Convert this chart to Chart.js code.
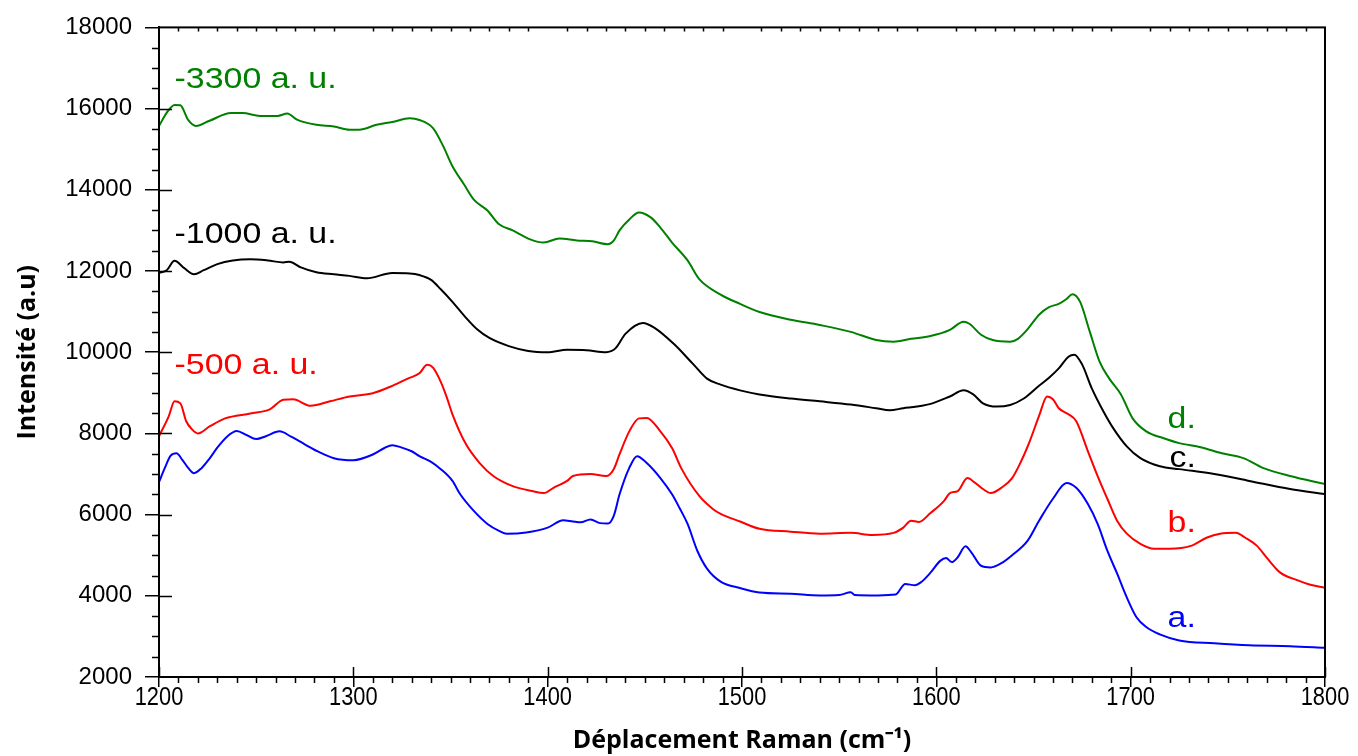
<!DOCTYPE html>
<html>
<head>
<meta charset="utf-8">
<script src="https://cdn.jsdelivr.net/npm/chart.js@4/dist/chart.umd.min.js"></script>
<style>
  html, body { margin: 0; padding: 0; background: #fff; }
  #wrap { width: 1358px; height: 756px; position: relative; }
</style>
</head>
<body>
<div id="wrap"><canvas id="raman"></canvas></div>
<script>
// Raman shift (cm-1) and intensity, one pair of arrays per spectrum
const xA = [1200,1203,1206,1209,1212,1215,1218,1222,1226,1230,1235,1240,1245,1250,1255,1262,1268,1275,1282,1290,1300,1310,1316,1320,1325,1330,1334,1340,1345,1351,1355,1362,1369,1375,1379,1389,1400,1408,1413,1417,1422,1427,1431,1434,1437,1442,1446,1451,1458,1464,1468,1472,1477,1482,1489,1499,1509,1525,1540,1550,1556,1558,1570,1579,1584,1589,1592,1597,1602,1605,1608,1611,1615,1618,1623,1628,1633,1639,1647,1653,1660,1667,1672,1678,1683,1688,1693,1698,1703,1708,1715,1725,1743,1761,1782,1800];
const yA = [6800,7150,7450,7510,7350,7150,7020,7150,7380,7650,7920,8060,7960,7860,7930,8050,7920,7730,7550,7390,7340,7480,7640,7710,7650,7560,7440,7300,7120,6830,6500,6090,5770,5600,5530,5560,5680,5860,5830,5810,5880,5790,5780,5970,6500,7150,7440,7270,6900,6500,6150,5770,5110,4670,4350,4190,4080,4050,4010,4020,4090,4020,4010,4030,4290,4260,4330,4570,4860,4930,4830,4950,5220,5070,4740,4700,4790,5000,5360,5860,6390,6780,6660,6260,5770,5110,4550,3960,3470,3230,3050,2900,2830,2780,2760,2720];

const xB = [1200,1205,1208,1211,1214,1217,1220,1226,1234,1247,1257,1264,1269,1278,1288,1298,1310,1319,1328,1334,1338,1341,1345,1348,1351,1358,1365,1372,1382,1392,1398,1403,1410,1413,1422,1430,1434,1437,1442,1447,1451,1458,1464,1469,1478,1485,1489,1499,1509,1525,1540,1556,1567,1578,1583,1587,1591,1597,1604,1607,1611,1616,1620,1624,1628,1634,1639,1643,1648,1653,1657,1660,1663,1668,1672,1678,1683,1688,1693,1698,1705,1712,1720,1731,1739,1746,1754,1759,1765,1770,1777,1786,1792,1800];
const yB = [7930,8420,8790,8740,8300,8100,8000,8170,8370,8490,8590,8830,8840,8680,8790,8910,8990,9150,9350,9480,9690,9620,9270,8900,8470,7730,7270,6950,6700,6580,6530,6660,6830,6950,7000,6950,7120,7490,8050,8370,8380,8050,7640,7120,6460,6140,6020,5830,5650,5580,5530,5550,5500,5550,5680,5850,5820,6040,6340,6530,6580,6900,6780,6630,6530,6680,6900,7250,7800,8450,8910,8840,8620,8470,8300,7560,6950,6390,5850,5530,5280,5160,5160,5230,5430,5530,5550,5430,5230,4940,4570,4380,4280,4200];

const xC = [1200,1204,1208,1213,1218,1223,1230,1238,1247,1256,1264,1267,1273,1281,1290,1298,1307,1320,1329,1334,1340,1345,1351,1357,1364,1370,1380,1390,1400,1410,1420,1430,1435,1440,1449,1455,1465,1475,1482,1489,1499,1509,1525,1540,1556,1569,1576,1583,1590,1598,1607,1614,1619,1624,1631,1638,1645,1653,1658,1663,1668,1671,1675,1680,1686,1691,1698,1705,1715,1725,1743,1761,1782,1800];
const yC = [11950,12020,12250,12070,11920,12020,12170,12260,12290,12260,12210,12230,12090,11970,11920,11880,11820,11950,11940,11900,11780,11550,11240,10900,10550,10350,10150,10030,10000,10060,10050,10000,10100,10450,10720,10600,10200,9700,9350,9200,9060,8960,8860,8790,8710,8620,8570,8620,8660,8740,8910,9060,8960,8740,8660,8700,8860,9180,9370,9600,9890,9940,9700,9110,8540,8130,7680,7390,7190,7120,7000,6830,6630,6500];

const xD = [1200,1204,1208,1211,1215,1219,1226,1237,1243,1252,1261,1266,1271,1281,1290,1298,1303,1312,1320,1329,1334,1341,1346,1351,1357,1362,1369,1375,1382,1391,1398,1406,1415,1423,1431,1434,1437,1442,1447,1453,1458,1464,1472,1478,1489,1499,1509,1525,1540,1556,1569,1578,1587,1597,1607,1614,1617,1623,1629,1638,1642,1647,1653,1658,1663,1667,1670,1674,1679,1684,1689,1695,1701,1708,1717,1725,1736,1747,1758,1768,1782,1800];
const yD = [15570,15900,16090,16080,15720,15570,15700,15890,15890,15820,15820,15880,15730,15600,15560,15480,15480,15600,15670,15760,15720,15520,15100,14580,14130,13760,13490,13150,13000,12780,12700,12800,12750,12730,12660,12750,13000,13270,13440,13320,13070,12700,12260,11800,11420,11190,10990,10800,10670,10500,10300,10260,10330,10400,10550,10750,10700,10430,10300,10260,10330,10570,10930,11110,11190,11310,11430,11240,10500,9770,9350,8960,8370,8050,7880,7760,7660,7510,7390,7150,6950,6750];

const seriesNames = ['a.', 'b.', 'c.', 'd.'];
const seriesColors = ['#0000ff', '#ff0000', '#000000', '#008000'];

const xTicks = [1200, 1300, 1400, 1500, 1600, 1700, 1800];
const yTicks = [2000, 4000, 6000, 8000, 10000, 12000, 14000, 16000, 18000];
const xMinorStep = 10;
const yMinorStep = 500;

// text labels placed in data units
const noteTexts = ['-3300 a. u.', '-1000 a. u.', '-500 a. u.', 'd.', 'c.', 'b.', 'a.'];
const noteX = [1208, 1208, 1208, 1719, 1720, 1719, 1719];
const noteY = [16700, 12900, 9670, 8345, 7365, 5770, 3445];
const noteColors = ['#008000', '#000000', '#ff0000', '#008000', '#000000', '#ff0000', '#0000ff'];

const toPts = (xs, ys) => xs.map((v, i) => ({ x: v, y: ys[i] }));
const allData = [toPts(xA, yA), toPts(xB, yB), toPts(xC, yC), toPts(xD, yD)];

const framePlugin = {
  id: 'frame',
  afterDraw(chart) {
    const { ctx, chartArea: a, scales } = chart;
    const sx = scales.x, sy = scales.y;
    ctx.save();
    ctx.strokeStyle = '#000';
    ctx.lineWidth = 2;
    ctx.strokeRect(a.left, a.top, a.right - a.left, a.bottom - a.top);
    ctx.lineWidth = 1.5;
    ctx.beginPath();
    for (let v = xTicks[0]; v <= xTicks[xTicks.length - 1]; v += xMinorStep) {
      const p = Math.round(sx.getPixelForValue(v)) + 0.5;
      if (xTicks.includes(v)) {
        ctx.moveTo(p, a.bottom); ctx.lineTo(p, a.bottom - 10);
      } else {
        ctx.moveTo(p, a.bottom); ctx.lineTo(p, a.bottom + 6);
        ctx.moveTo(p, a.top); ctx.lineTo(p, a.top + 4);
      }
    }
    for (let v = yTicks[0]; v <= yTicks[yTicks.length - 1]; v += yMinorStep) {
      const p = Math.round(sy.getPixelForValue(v)) + 0.5;
      if (yTicks.includes(v)) {
        if (v !== yTicks[0] && v !== yTicks[yTicks.length - 1]) {
          ctx.moveTo(a.left, p); ctx.lineTo(a.left + 13, p);
        }
      } else {
        ctx.moveTo(a.left, p); ctx.lineTo(a.left - 7, p);
      }
    }
    ctx.stroke();

    // x tick labels, narrow face as in the original
    ctx.fillStyle = '#000';
    ctx.font = '26px "Liberation Sans", Arial, sans-serif';
    ctx.textAlign = 'center';
    ctx.textBaseline = 'alphabetic';
    xTicks.forEach(v => {
      ctx.save();
      ctx.translate(sx.getPixelForValue(v), a.bottom + 28);
      ctx.scale(0.84, 1);
      ctx.fillText(String(v), 0, 0);
      ctx.restore();
    });
    ctx.restore();
  },
  afterDatasetsDraw(chart) {
    const { ctx, scales } = chart;
    ctx.save();
    ctx.font = '30px "Liberation Sans", Arial, sans-serif';
    ctx.textBaseline = 'middle';
    noteTexts.forEach((t, i) => {
      const px = scales.x.getPixelForValue(noteX[i]);
      const py = scales.y.getPixelForValue(noteY[i]);
      ctx.save();
      ctx.translate(px, py);
      ctx.scale(1.13, 1);
      ctx.fillStyle = noteColors[i];
      ctx.fillText(t, 0, 0);
      ctx.restore();
    });
    ctx.restore();
  }
};

new Chart(document.getElementById('raman'), {
  type: 'scatter',
  data: {
    datasets: allData.map((d, i) => ({
      label: seriesNames[i],
      data: d,
      showLine: true,
      borderColor: seriesColors[i],
      backgroundColor: seriesColors[i],
      borderWidth: 2,
      pointRadius: 0,
      cubicInterpolationMode: 'monotone'
    }))
  },
  options: {
    responsive: true,
    maintainAspectRatio: false,
    animation: false,
    layout: { padding: { top: 24, right: 33, left: 0, bottom: 0 } },
    plugins: { legend: { display: false }, tooltip: { enabled: false } },
    scales: {
      x: {
        type: 'linear',
        min: 1200,
        max: 1800,
        afterFit: s => { s.height = 79; },
        afterBuildTicks: s => { s.ticks = xTicks.map(v => ({ value: v })); },
        border: { display: true, color: '#000', width: 2 },
        grid: { drawOnChartArea: false, drawTicks: true, tickLength: 10, color: '#000', lineWidth: 1.5 },
        ticks: { display: false },
        title: {
          display: true,
          text: 'Déplacement Raman (cm⁻¹)',
          color: '#000',
          padding: { top: 0, bottom: 0 },
          font: { family: '"Open Sans", sans-serif', size: 25, weight: 'bold' }
        }
      },
      y: {
        min: 2000,
        max: 18000,
        afterFit: s => { s.width = 159; },
        afterBuildTicks: s => { s.ticks = yTicks.map(v => ({ value: v })); },
        border: { display: true, color: '#000', width: 2 },
        grid: { drawOnChartArea: false, drawTicks: true, tickLength: 14, color: '#000', lineWidth: 1.5 },
        ticks: {
          color: '#000',
          padding: 13,
          callback: v => String(v),
          font: { family: '"Liberation Sans", Arial, sans-serif', size: 24 }
        },
        title: {
          display: true,
          text: 'Intensité (a.u)',
          color: '#000',
          padding: { top: 13, bottom: 0 },
          font: { family: '"Open Sans", sans-serif', size: 25, weight: 'bold' }
        }
      }
    }
  },
  plugins: [framePlugin]
});
</script>
</body>
</html>
